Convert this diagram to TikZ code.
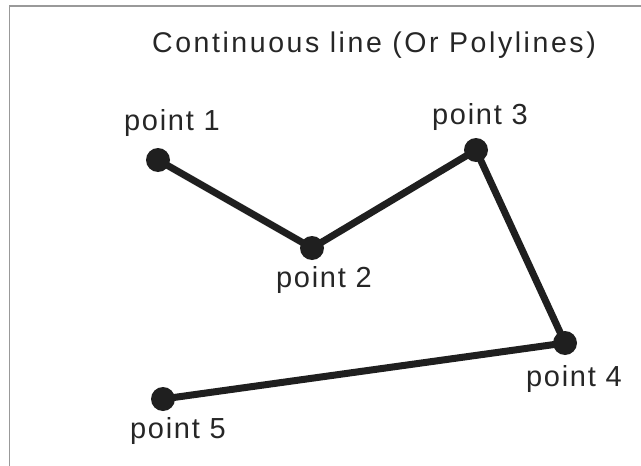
\documentclass[tikz,border=0pt]{standalone}
\usepackage{fontspec}
\setmainfont{Liberation Sans}
\begin{document}
\begin{tikzpicture}[x=1pt,y=-1pt,
  dot/.style={circle,fill=black!88,inner sep=0pt,minimum size=24pt},
  seg/.style={line width=7pt,draw=black!88},
  lbl/.style={inner sep=0pt,font=\fontsize{29}{33}\selectfont\addfontfeature{LetterSpace=6},text=black!85},
  frame/.style={draw=black!40,line width=1.5pt}]
\useasboundingbox (0,0) rectangle (641,466);
\coordinate (tl) at (9.5,6);
\coordinate (tr) at (641,6);
\coordinate (bl) at (9.5,466);
\draw[frame] (bl) -- (tl) -- (tr);
\node[lbl,font=\fontsize{28.5}{32}\selectfont\addfontfeature{LetterSpace=9}] (title) at (374,45) {Continuous line (Or Polylines)};
\node[dot] (p1) at (158,160) {};
\node[dot] (p2) at (312,248) {};
\node[dot] (p3) at (476,150) {};
\node[dot] (p4) at (565,343) {};
\node[dot] (p5) at (163,399) {};
\draw[seg,line join=round] (p1.center) -- (p2.center) -- (p3.center) -- (p4.center) -- (p5.center);
\node[lbl] (l1) at (172,123) {point 1};
\node[lbl] (l2) at (324,280) {point 2};
\node[lbl] (l3) at (480,117) {point 3};
\node[lbl] (l4) at (574,379) {point 4};
\node[lbl] (l5) at (178,431) {point 5};
\end{tikzpicture}
\end{document}
